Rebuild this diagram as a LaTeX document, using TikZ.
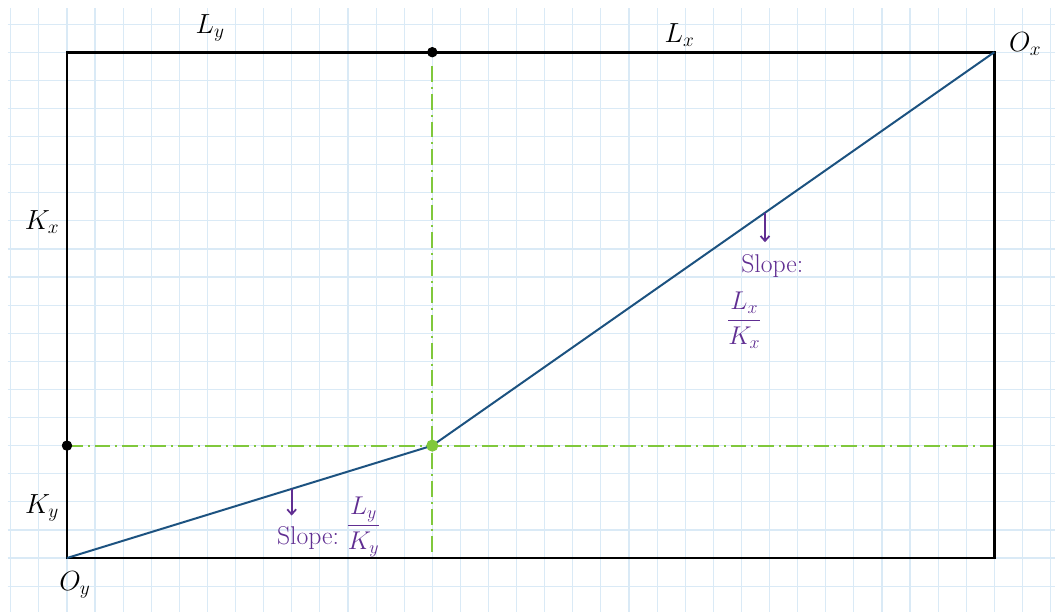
\RequirePackage{fix-cm}
\documentclass[tikz,border=0pt]{standalone}
\usepackage{fontspec}
\usepackage{amsmath}
\usetikzlibrary{arrows.meta, calc}

\definecolor{gridblue}{RGB}{218,234,246}
\definecolor{lineblue}{RGB}{28,82,128}
\definecolor{guidegreen}{RGB}{128,200,60}
\definecolor{notepurple}{RGB}{96,46,146}

\begin{document}
\begin{tikzpicture}[thick,
        gridline/.style={gridblue, line width=1.2pt},
        box/.style={black, line width=2.8pt},
        curve/.style={lineblue, line width=2pt},
        guide/.style={guidegreen, line width=1.8pt, dash pattern=on 16pt off 5pt on 2pt off 5pt},
        pointer/.style={notepurple, line width=1.8pt, -{Straight Barb[length=5pt,width=9pt]}},
        lbl/.style={font=\fontsize{28}{32}\selectfont},
        note/.style={text=notepurple, font=\fontsize{26}{30}\selectfont}]

        % graph paper background
        \useasboundingbox (-2.384,-2.028) rectangle (35.16,19.858);
        \fill[white] (-2.384,-2.028) rectangle (35.16,19.858);
        \draw[gridline] (-2.1,-1.92) grid (35.16,19.57);

        % corners of the box and the chosen point
        \coordinate (Oy) at (0,0);
        \coordinate (Ox) at (33,18);
        \coordinate (E) at (13,4);
        \coordinate (top) at (13,18);
        \coordinate (bottom) at (13,0);
        \coordinate (left) at (0,4);
        \coordinate (right) at (33,4);

        % green guide lines through the point
        \draw[guide] (left) -- (right);
        \draw[guide, shorten <=0.5cm] (top) -- (bottom);

        % the box
        \draw[box] (Oy) rectangle (Ox);

        % contract curve
        \draw[curve] (Oy) -- (E) -- (Ox);

        % dots
        \filldraw[black] (top) circle (0.17);
        \filldraw[black] (left) circle (0.17);
        \filldraw[guidegreen] (E) circle (0.2);

        % axis labels
        \node[lbl] (Ly) at (5.09,18.86) {$L_y$};
        \node[lbl] (Lx) at (21.8,18.6) {$L_x$};
        \node[lbl] (OxL) at (34.1,18.3) {$O_x$};
        \node[lbl] (Kx) at (-0.89,11.96) {$K_x$};
        \node[lbl] (Ky) at (-0.89,1.78) {$K_y$};
        \node[lbl] (OyL) at (0.28,-0.96) {$O_y$};

        % slope notes
        \coordinate (a1) at ($(Oy)!0.615!(E)$);
        \coordinate (a1end) at ($(a1)+(0,-0.95)$);
        \draw[pointer] (a1) -- (a1end);
        \node[note] (s1) at (8.58,0.71) {Slope:};
        \node[note] (f1) at (10.55,1.1) {$\dfrac{L_y}{K_y}$};

        \coordinate (a2) at ($(E)!0.592!(Ox)$);
        \coordinate (a2end) at ($(a2)+(0,-1.05)$);
        \draw[pointer] (a2) -- (a2end);
        \node[note] (s2) at (25.1,10.4) {Slope:};
        \node[note] (f2) at (24.1,8.47) {$\dfrac{L_x}{K_x}$};

    \end{tikzpicture}
\end{document}
